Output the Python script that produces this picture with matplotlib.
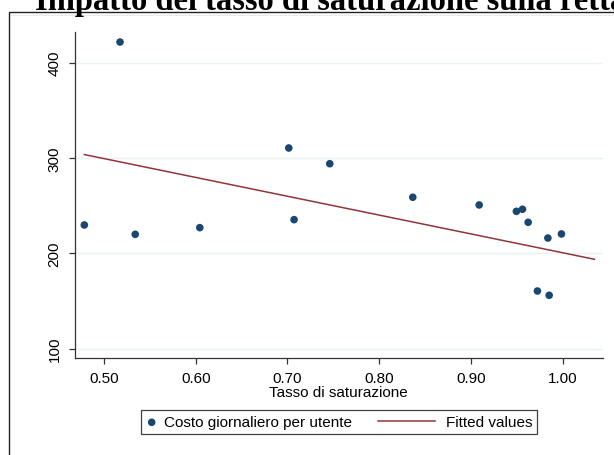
import matplotlib
matplotlib.use("Agg")
import matplotlib.pyplot as plt
from matplotlib.lines import Line2D
from matplotlib.legend_handler import HandlerLine2D
from matplotlib.patches import Rectangle
import numpy as np

# Observations: saturation rate vs daily cost per user
saturazione = [0.4785, 0.5174, 0.534, 0.6044, 0.7014, 0.7072, 0.7461, 0.8366,
               0.909, 0.9496, 0.9562, 0.9624, 0.9725, 0.9839, 0.9853, 0.9987]
costo = [229.7, 421.7, 219.9, 226.9, 310.5, 235.3, 294.0, 258.8,
         250.7, 244.0, 246.2, 232.5, 160.4, 216.0, 155.9, 220.3]

# Fitted regression line (end points of the predicted values)
fit_x = [0.4785, 1.0347]
fit_y = [303.6, 193.7]

x_ticks = [0.5, 0.6, 0.7, 0.8, 0.9, 1.0]
x_tick_labels = ["0.50", "0.60", "0.70", "0.80", "0.90", "1.00"]
y_ticks = [100, 200, 300, 400]

NAVY = "#1a476f"
MAROON = "#90353b"
FS = 11.0

plt.rcParams["font.family"] = ["Liberation Sans", "DejaVu Sans"]

W, H = 614, 456
fig = plt.figure(figsize=(W / 100, H / 100), dpi=100)
fig.patch.set_facecolor("white")

# outer graph-region frame (continues past the right/bottom edges)
fig.patches.append(Rectangle((8.7 / W, -0.1), 1.2, 1 - 12.7 / H + 0.1,
                             transform=fig.transFigure, fill=False,
                             edgecolor="#222222", linewidth=1.0))
fig.add_artist(Line2D([8.7 / W + 0.003, 1.0], [1 - 16.2 / H] * 2,
                      transform=fig.transFigure, color="#e6eced", lw=0.8))

fig.text(35 / W, 1 - 10.0 / H, "Impatto del tasso di saturazione sulla retta",
         family=["Liberation Serif"], fontweight="bold", fontsize=23.5,
         ha="left", va="baseline")

ax = fig.add_axes([74.7 / W, 1 - 359 / H, (603 - 74.7) / W, (359 - 33.3) / H])
ax.set_xlim(0.468, 1.044)
ax.set_ylim(90.1, 431.9)

for s in ("top", "right"):
    ax.spines[s].set_visible(False)
for s in ("left", "bottom"):
    ax.spines[s].set_color("#333333")
    ax.spines[s].set_linewidth(0.9)

ax.set_yticks(y_ticks)
ax.set_yticklabels([str(v) for v in y_ticks], rotation=90, va="center")
ax.set_xticks(x_ticks)
ax.set_xticklabels(x_tick_labels)
ax.tick_params(axis="both", direction="out", length=4.3, width=0.9,
               color="#333333", labelsize=FS, pad=5.2)
ax.yaxis.grid(True, color="#eaf2f3", linewidth=1.0)
ax.set_axisbelow(True)

ax.scatter(saturazione, costo, s=30, color=NAVY, edgecolors="none", zorder=3,
           label="Costo giornaliero per utente")
ax.plot(fit_x, fit_y, color=MAROON, linewidth=1.1, zorder=2, label="Fitted values")

ax.set_xlabel("Tasso di saturazione", fontsize=FS, labelpad=0.0)


class LongLineHandler(HandlerLine2D):
    """Draw the line key reaching back into the column gap."""
    def create_artists(self, legend, orig_handle, xdescent, ydescent,
                       width, height, fontsize, trans):
        x1 = width * 0.65
        x0 = x1 - 3.7 * fontsize
        y = (height - ydescent) / 2
        ln = Line2D([x0, x1], [y, y], color=orig_handle.get_color(),
                    linewidth=orig_handle.get_linewidth())
        ln.set_transform(trans)
        return [ln]


handles, labels = ax.get_legend_handles_labels()
leg = fig.legend(handles, labels, loc="center",
                 bbox_to_anchor=(338.9 / W, 1 - 423.3 / H), ncol=2,
                 fontsize=FS, frameon=True, fancybox=False, shadow=False,
                 handlelength=0.8, handletextpad=0.42, columnspacing=4.9,
                 borderpad=0.33, scatterpoints=1, markerscale=1.0,
                 handler_map={Line2D: LongLineHandler()})
leg.get_frame().set_edgecolor("#111111")
leg.get_frame().set_linewidth(0.9)

fig.savefig("out.png", dpi=100, facecolor="white")
